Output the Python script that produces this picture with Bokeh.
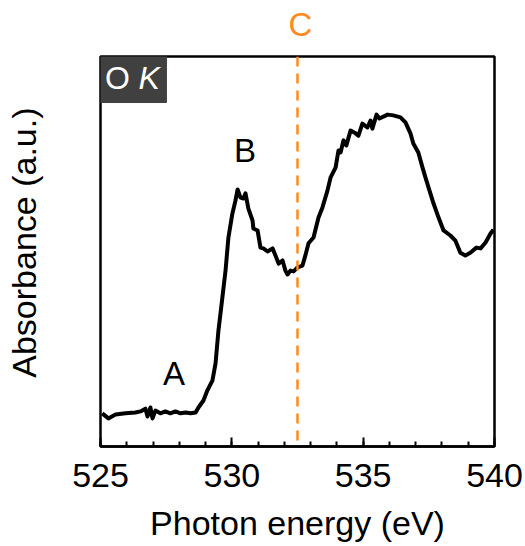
import math
from bokeh.plotting import figure
from bokeh.models import Range1d, Span, Label, BoxAnnotation, LinearAxis, FixedTicker, Title
from bokeh.embed import file_html
from bokeh.resources import INLINE

# O K-edge XAS spectrum
energy = [525.065, 525.30, 525.57, 525.95, 526.33, 526.52, 526.71, 526.79, 526.90, 526.98,
          527.09, 527.28, 527.47, 527.66, 527.85, 528.05, 528.24, 528.43, 528.62, 528.73,
          528.92, 529.07, 529.26, 529.38, 529.49, 529.64, 529.76, 529.87, 530.02, 530.14,
          530.22, 530.33, 530.44, 530.52, 530.63, 530.79, 530.82, 530.98, 531.09, 531.20,
          531.36, 531.55, 531.66, 531.78, 531.93, 532.04, 532.12, 532.23, 532.35, 532.50,
          532.69, 532.80, 532.92, 533.11, 533.30, 533.45, 533.64, 533.76, 533.95, 534.06,
          534.14, 534.25, 534.36, 534.52, 534.71, 534.82, 534.97, 535.16, 535.28, 535.35,
          535.51, 535.62, 535.93, 536.15, 536.42, 536.61, 536.80, 536.91, 537.10, 537.26,
          537.37, 537.49, 537.68, 537.87, 538.06, 538.32, 538.51, 538.70, 538.89, 539.08,
          539.31, 539.47, 539.66, 539.85, 539.96]
absorbance = [0.085, 0.072, 0.082, 0.085, 0.087, 0.090, 0.097, 0.077, 0.100, 0.072,
              0.092, 0.085, 0.090, 0.085, 0.090, 0.085, 0.087, 0.085, 0.087, 0.100,
              0.118, 0.144, 0.169, 0.213, 0.297, 0.382, 0.451, 0.536, 0.597, 0.631,
              0.659, 0.638, 0.636, 0.649, 0.610, 0.579, 0.559, 0.554, 0.510, 0.508,
              0.500, 0.508, 0.490, 0.469, 0.477, 0.451, 0.441, 0.451, 0.449, 0.459,
              0.464, 0.490, 0.521, 0.536, 0.587, 0.613, 0.656, 0.690, 0.715, 0.759,
              0.754, 0.785, 0.772, 0.810, 0.803, 0.797, 0.828, 0.818, 0.836, 0.815,
              0.851, 0.841, 0.851, 0.849, 0.844, 0.831, 0.803, 0.777, 0.754, 0.715,
              0.690, 0.664, 0.623, 0.587, 0.554, 0.541, 0.528, 0.497, 0.490, 0.497,
              0.510, 0.508, 0.523, 0.546, 0.556]

x_ticks = [525, 530, 535, 540]
c_energy = 532.5

FONT = "Liberation Sans"
ORANGE = "#FF8A1F"

p = figure(width=525, height=546, output_backend="svg", toolbar_location=None,
           x_range=Range1d(525, 540), y_range=Range1d(0, 1),
           x_axis_location=None, y_axis_location=None,
           min_border_left=100, min_border_right=31, min_border_top=56, min_border_bottom=100)
p.grid.visible = False
p.outline_line_color = "black"
p.outline_line_width = 2.5
p.background_fill_color = "white"
p.border_fill_color = "white"

xaxis = LinearAxis(ticker=FixedTicker(ticks=x_ticks, minor_ticks=list(range(525, 541))))
xaxis.axis_label = "Photon energy (eV)"
xaxis.axis_label_text_font = FONT
xaxis.axis_label_text_font_size = "34px"
xaxis.axis_label_text_font_style = "normal"
xaxis.axis_label_text_color = "black"
xaxis.axis_label_standoff = 14
xaxis.major_label_text_font = FONT
xaxis.major_label_text_font_size = "34px"
xaxis.major_label_text_color = "black"
xaxis.major_label_standoff = 17
xaxis.major_tick_in = 9
xaxis.major_tick_out = 0
xaxis.minor_tick_in = 5
xaxis.minor_tick_out = 0
xaxis.major_tick_line_width = 2
xaxis.minor_tick_line_width = 2
xaxis.axis_line_width = 2.5
xaxis.axis_line_color = "black"
p.add_layout(xaxis, "below")

p.add_layout(Span(location=c_energy, dimension="height", line_color=ORANGE,
                  line_width=2.5, line_dash="10 7"))

p.line(energy, absorbance, line_color="black", line_width=4, line_join="round")

# O K badge
p.add_layout(BoxAnnotation(left=524.92, right=527.51, top=1.003, bottom=0.882,
                           fill_color="#404040", fill_alpha=1, line_color="#404040", line_alpha=1))
p.add_layout(Label(x=525.17, y=0.945, text="O", text_font=FONT, text_font_size="32px",
                   text_color="white", text_baseline="middle", text_align="left"))
p.add_layout(Label(x=526.45, y=0.945, text="K", text_font=FONT, text_font_size="32px",
                   text_font_style="italic", text_color="white", text_baseline="middle",
                   text_align="left"))

# Peak labels
p.add_layout(Label(x=527.8, y=0.187, text="A", text_font=FONT, text_font_size="33px",
                   text_color="black", text_align="center", text_baseline="middle"))
p.add_layout(Label(x=530.5, y=0.759, text="B", text_font=FONT, text_font_size="33px",
                   text_color="black", text_align="center", text_baseline="middle"))

# Texts outside the frame, as side-panel titles; white blank spacer titles
# (added first, so nearest the frame) push them outward
p.add_layout(Title(text=" ", text_font_size="1px", standoff=11, text_color="white"), "above")
p.add_layout(Title(text="C", align="left", offset=188, standoff=0, text_font=FONT,
                   text_font_size="33px", text_font_style="normal", text_color=ORANGE),
             "above")
p.add_layout(Title(text=" ", text_font_size="1px", standoff=55, text_color="white"), "left")
p.add_layout(Title(text="Absorbance (a.u.)", align="right", offset=51, standoff=0,
                   text_font=FONT, text_font_size="34px", text_font_style="normal",
                   text_color="black"),
             "left")

open("out.html", "w").write(file_html(p, INLINE))
